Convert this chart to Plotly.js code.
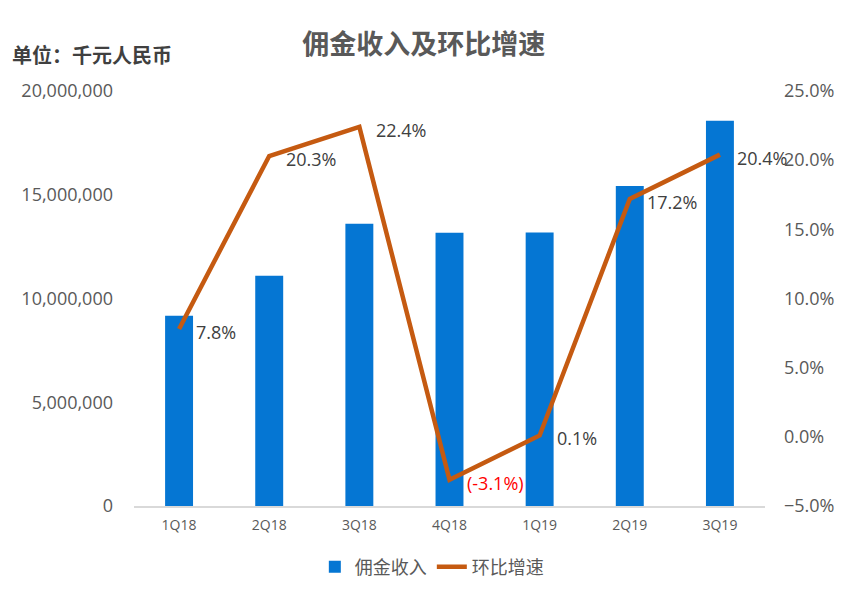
<!DOCTYPE html>
<html>
<head>
<meta charset="utf-8">
<script src="https://cdn.plot.ly/plotly-3.0.1.min.js"></script>
<style>html,body{margin:0;padding:0;background:#fff;}#chart{width:851px;height:599px;}</style>
</head>
<body>
<div id="chart"></div>
<script>
const categories = ['1Q18','2Q18','3Q18','4Q18','1Q19','2Q19','3Q19'];
const commissionIncome = [9170000, 11100000, 13600000, 13170000, 13180000, 15420000, 18570000];
const qoqGrowth = [7.8, 20.3, 22.4, -3.1, 0.1, 17.2, 20.4];
const growthLabels = ['7.8%','20.3%','22.4%','(-3.1%)','0.1%','17.2%','20.4%'];
const labelColors = ['#404040','#404040','#404040','#FF0000','#404040','#404040','#404040'];

const FONT = 'Open Sans, Noto Sans CJK SC, sans-serif';
const CJK = 'Noto Sans CJK SC, sans-serif';

const traces = [
  {
    type: 'bar', name: '佣金收入', x: categories, y: commissionIncome,
    marker: {color: '#0576D3'}, yaxis: 'y', hoverinfo: 'skip'
  },
  {
    type: 'scatter', mode: 'lines', name: '环比增速', x: categories, y: qoqGrowth,
    yaxis: 'y2', line: {color: '#C55A11', width: 4.5}, hoverinfo: 'skip'
  }
];

const labelAnnotations = categories.map((c, i) => ({
  x: c, y: qoqGrowth[i], xref: 'x', yref: 'y2', text: growthLabels[i],
  showarrow: false, xanchor: 'left', yanchor: 'middle', xshift: 15, yshift: -3,
  font: {family: FONT, size: 18, color: labelColors[i]}
}));

const layout = {
  width: 851, height: 599,
  margin: {l: 134, r: 86, t: 91, b: 93, autoexpand: false},
  paper_bgcolor: '#fff', plot_bgcolor: '#fff',
  font: {family: FONT, color: '#595959'},
  title: {text: '<b>佣金收入及环比增速</b>', x: 0.498, xanchor: 'center', y: 0.925, yanchor: 'middle',
          font: {family: CJK, size: 27, color: '#595959'}},
  bargap: 0.69,
  showlegend: true,
  legend: {orientation: 'h', x: 0.472, xanchor: 'center', y: -0.147, yanchor: 'middle',
           font: {family: CJK, size: 18, color: '#595959'}},
  xaxis: {
    type: 'category', range: [-0.5, categories.length - 0.5], automargin: false, showgrid: false,
    showline: true, linecolor: '#D9D9D9', linewidth: 1.5,
    ticks: '', ticklabelstandoff: 6, tickfont: {size: 14, color: '#595959'}
  },
  yaxis: {
    range: [0, 20000000], dtick: 5000000, tickformat: ',d', automargin: false, showgrid: false, zeroline: false,
    showline: false, ticks: '', ticklabelstandoff: 20, tickfont: {size: 18, color: '#595959'}
  },
  yaxis2: {
    overlaying: 'y', side: 'right', range: [-5, 25], dtick: 5, tickformat: '.1f', ticksuffix: '%',
    automargin: false, showgrid: false, zeroline: false, showline: false, ticks: '', ticklabelstandoff: 18,
    tickfont: {size: 18, color: '#595959'}
  },
  annotations: [
    {text: '<b>单位：千元人民币</b>', xref: 'paper', yref: 'paper', x: -0.197, xanchor: 'left',
     y: 1.087, yanchor: 'middle', showarrow: false,
     font: {family: CJK, size: 20, color: '#404040'}}
  ].concat(labelAnnotations)
};

Plotly.newPlot('chart', traces, layout, {displayModeBar: false, staticPlot: true});
</script>
</body>
</html>
